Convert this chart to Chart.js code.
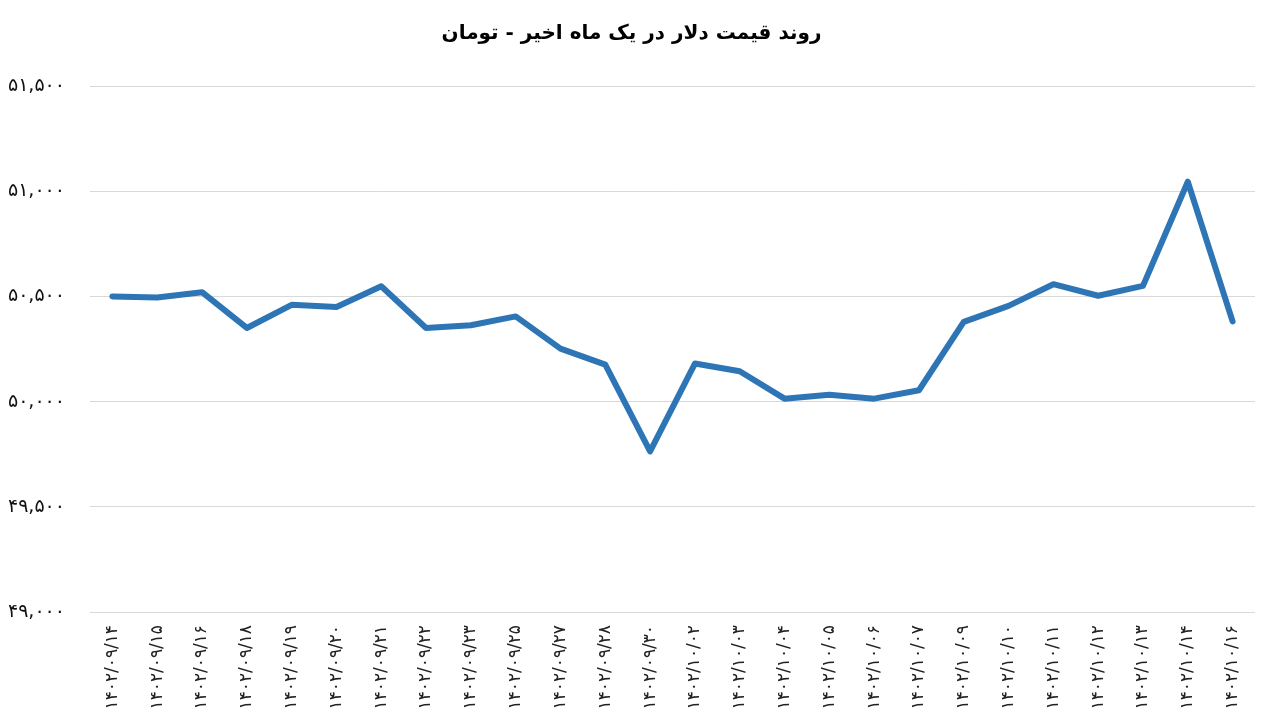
<!DOCTYPE html>
<html lang="fa">
<head>
<meta charset="utf-8">
<title>روند قیمت دلار</title>
<script src="https://cdn.jsdelivr.net/npm/chart.js@4.4.0/dist/chart.umd.min.js"></script>
<style>
  html, body { margin: 0; padding: 0; background: #ffffff; }
  #wrap { width: 1271px; height: 725px; }
</style>
</head>
<body>
<div id="wrap"><canvas id="nemodar" width="1271" height="725"></canvas></div>
<script>
// تاریخ ها (محور افقی)
const tarikh = [
  '۱۴۰۲/۰۹/۱۴', '۱۴۰۲/۰۹/۱۵', '۱۴۰۲/۰۹/۱۶', '۱۴۰۲/۰۹/۱۸', '۱۴۰۲/۰۹/۱۹',
  '۱۴۰۲/۰۹/۲۰', '۱۴۰۲/۰۹/۲۱', '۱۴۰۲/۰۹/۲۲', '۱۴۰۲/۰۹/۲۳', '۱۴۰۲/۰۹/۲۵',
  '۱۴۰۲/۰۹/۲۷', '۱۴۰۲/۰۹/۲۸', '۱۴۰۲/۰۹/۳۰', '۱۴۰۲/۱۰/۰۲', '۱۴۰۲/۱۰/۰۳',
  '۱۴۰۲/۱۰/۰۴', '۱۴۰۲/۱۰/۰۵', '۱۴۰۲/۱۰/۰۶', '۱۴۰۲/۱۰/۰۷', '۱۴۰۲/۱۰/۰۹',
  '۱۴۰۲/۱۰/۱۰', '۱۴۰۲/۱۰/۱۱', '۱۴۰۲/۱۰/۱۲', '۱۴۰۲/۱۰/۱۳', '۱۴۰۲/۱۰/۱۴',
  '۱۴۰۲/۱۰/۱۶'
];

// قیمت دلار به تومان (خوانده شده از تصویر)
const gheymat = [
  50500, 50495, 50520, 50350, 50460,
  50450, 50548, 50350, 50363, 50405,
  50252, 50176, 49763, 50181, 50144,
  50014, 50033, 50014, 50054, 50379,
  50455, 50558, 50503, 50550, 51045,
  50381
];

// محور عمودی
const yMin = 49000;
const yMax = 51500;
const yGam = 500;

const onvan = 'روند قیمت دلار در یک ماه اخیر - تومان';

// تبدیل ارقام لاتین به فارسی
const raghamFarsi = ['۰','۱','۲','۳','۴','۵','۶','۷','۸','۹'];
function beFarsi(n) {
  return n.toLocaleString('en-US').replace(/[0-9]/g, d => raghamFarsi[+d]);
}

const ctx = document.getElementById('nemodar').getContext('2d');

new Chart(ctx, {
  type: 'line',
  data: {
    labels: tarikh,
    datasets: [{
      label: 'قیمت دلار',
      data: gheymat,
      borderColor: '#2e75b6',
      borderWidth: 6,
      pointRadius: 0,
      tension: 0,
      fill: false,
      borderJoinStyle: 'round',
      borderCapStyle: 'round'
    }]
  },
  options: {
    responsive: false,
    animation: false,
    layout: {
      padding: { top: 8, left: 8, right: 16, bottom: 0 }
    },
    plugins: {
      legend: { display: false },
      tooltip: { enabled: false },
      title: {
        display: true,
        text: onvan,
        color: '#000000',
        font: { family: 'DejaVu Sans', size: 20, weight: 'bold' },
        padding: { top: 14, bottom: 40 }
      }
    },
    scales: {
      x: {
        offset: true,
        grid: { display: false, drawTicks: false },
        border: { display: false },
        afterFit: s => { s.height = 113; },
        ticks: {
          minRotation: 90,
          maxRotation: 90,
          autoSkip: false,
          padding: 13,
          color: '#222222',
          font: { family: 'DejaVu Sans', size: 17 }
        }
      },
      y: {
        min: yMin,
        max: yMax,
        grid: { color: '#d9d9d9', lineWidth: 1, drawTicks: false },
        border: { display: false },
        afterFit: s => { s.width = 82; },
        ticks: {
          stepSize: yGam,
          padding: 25,
          color: '#111111',
          font: { family: 'DejaVu Sans', size: 19 },
          callback: v => beFarsi(v)
        }
      }
    }
  }
});
</script>
</body>
</html>
